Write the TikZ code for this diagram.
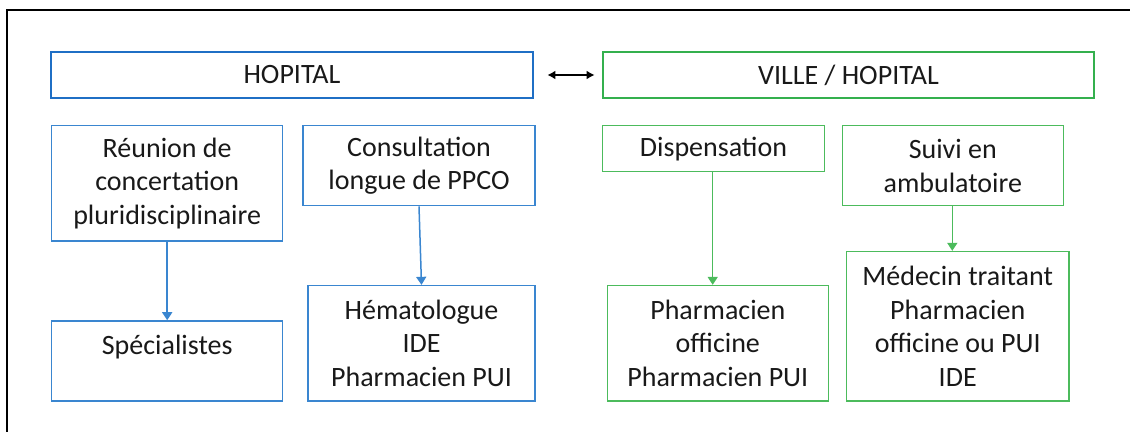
\documentclass[tikz,border=0pt]{standalone}
\usepackage{fontspec}
\setmainfont{Carlito}
\usetikzlibrary{arrows.meta}
\definecolor{hblue}{HTML}{1F6FC5}
\definecolor{lblue}{HTML}{3A86D0}
\definecolor{hgreen}{HTML}{34B04E}
\definecolor{lgreen}{HTML}{4CBB5C}
\begin{document}
\begin{tikzpicture}[x=0.5pt,y=-0.5pt,
  every node/.style={font=\fontsize{14}{16.85}\selectfont, text=black!90, align=center, inner sep=0pt},
  headbox/.style={draw, line width=1.4pt, minimum height=23pt},
  bbox/.style={draw=lblue, line width=0.75pt},
  gbox/.style={draw=lgreen, line width=0.75pt},
  barrow/.style={draw=lblue, line width=0.75pt, -{Triangle[length=4pt,width=5pt]}},
  garrow/.style={draw=lgreen, line width=0.75pt, -{Triangle[length=4pt,width=5pt]}}]
\useasboundingbox (0,0) rectangle (1130,432);
\draw[line width=1pt] (7,432) -- (7,10) -- (1130,10);
% headers
\node[headbox, draw=hblue, minimum width=241pt] (hop) at (292,75) {HOPITAL};
\node[headbox, draw=hgreen, minimum width=245.5pt] (ville) at (848.5,75) {VILLE / HOPITAL};
\draw[line width=0.75pt, {Latex[length=4pt,width=4.5pt]}-{Latex[length=4pt,width=4.5pt]}, shorten <=6.5pt, shorten >=3.5pt] (hop) -- (ville);
% hospital side
\node[bbox, minimum width=115.5pt, minimum height=57.7pt] (reun) at (167.2,183.3) {Réunion de\\concertation\\pluridisciplinaire};
\node[bbox, minimum width=116pt, minimum height=40pt] (cons) at (419,165.7) {Consultation\\longue de PPCO};
\node[bbox, minimum width=115.5pt, minimum height=40pt] (spec) at (167.2,361) {Spécialistes\\[-6pt]\strut};
\node[bbox, minimum width=113.5pt, minimum height=57.7pt] (hema) at (421.5,343.3) {Hématologue\\IDE\\Pharmacien PUI};
\draw[barrow] (reun.south) -- (spec.north);
\draw[barrow] (cons.south) -- (hema.north);
% ville side
\node[gbox, minimum width=110.8pt, minimum height=23pt] (disp) at (713.5,148.7) {Dispensation};
\node[gbox, minimum width=110.5pt, minimum height=40pt] (suiv) at (952.8,165.7) {Suivi en\\ambulatoire};
\node[gbox, minimum width=110.5pt, minimum height=57.7pt] (phoff) at (717.8,343.3) {Pharmacien\\officine\\Pharmacien PUI};
\node[gbox, minimum width=111.3pt, minimum height=74.7pt] (med) at (957.7,326.3) {Médecin traitant\\Pharmacien\\officine ou PUI\\IDE};
\draw[garrow] ([xshift=-0.4pt]disp.south) -- ([xshift=-0.4pt]disp.south |- phoff.north);
\draw[garrow] ([xshift=-0.25pt]suiv.south) -- ([xshift=-0.25pt]suiv.south |- med.north);
\end{tikzpicture}
\end{document}
